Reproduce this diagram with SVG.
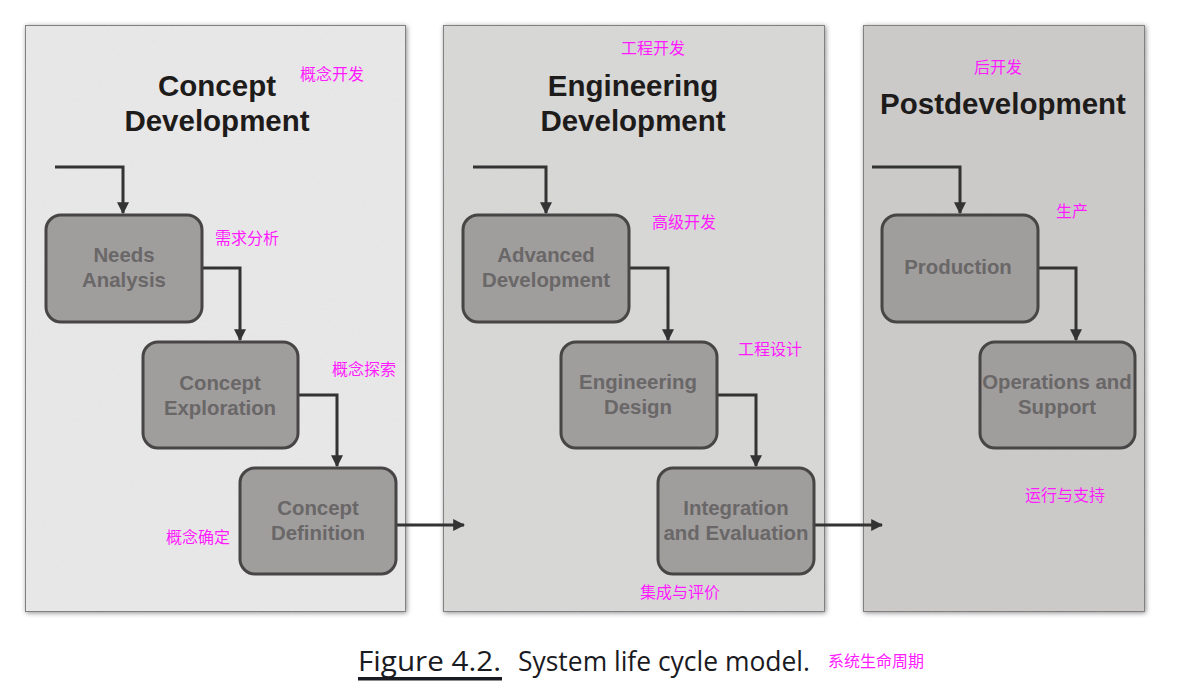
<svg xmlns="http://www.w3.org/2000/svg" width="1177" height="692" viewBox="0 0 1177 692">
<defs>
<marker id="ah" viewBox="0 0 10 10" refX="9" refY="5" markerWidth="4" markerHeight="4" orient="auto" markerUnits="strokeWidth">
<path d="M0,0 L10,5 L0,10 z" fill="#333"/>
</marker>
<filter id="sh" x="-5%" y="-5%" width="110%" height="110%">
<feGaussianBlur in="SourceAlpha" stdDeviation="2.5"/>
<feOffset dx="1" dy="1" result="b"/>
<feFlood flood-color="#000" flood-opacity="0.45"/>
<feComposite in2="b" operator="in"/>
<feMerge><feMergeNode/><feMergeNode in="SourceGraphic"/></feMerge>
</filter>
<filter id="tex" x="0" y="0" width="100%" height="100%">
<feTurbulence type="fractalNoise" baseFrequency="0.8" numOctaves="3" seed="3" result="n"/>
<feColorMatrix in="n" type="matrix" values="0 0 0 0 0.5  0 0 0 0 0.5  0 0 0 0 0.5  0 0 0 0.16 0" result="g"/>
<feComposite in="g" in2="SourceGraphic" operator="atop"/>
</filter>
</defs>
<style>
.panel{stroke:#7a7a7a;stroke-width:2}
.node rect{fill:#a09d9d;stroke:#474545;stroke-width:3}
.node text{font-family:"Liberation Sans",Arial,sans-serif;font-weight:bold;font-size:20.4px;fill:#696767;text-anchor:middle}
.title{font-family:"Liberation Sans",Arial,sans-serif;font-weight:bold;font-size:29.5px;fill:#1e1b1b;text-anchor:middle}
.cn{font-family:"Noto Sans CJK SC",sans-serif;font-size:16px;fill:#ff1aff}
.conn path{fill:none;stroke:#333;stroke-width:3;marker-end:url(#ah)}
.cap{font-family:"Open Sans","Noto Sans",sans-serif;font-size:27px;fill:#1a1a22}
</style>
<rect width="1177" height="692" fill="#fff"/>
<g id="panels">
<g filter="url(#sh)"><rect class="panel" x="25" y="25" width="381" height="587" fill="#ebeaea" filter="url(#tex)"/></g>
<g filter="url(#sh)"><rect class="panel" x="443" y="25" width="382" height="587" fill="#d9d9d8" filter="url(#tex)"/></g>
<g filter="url(#sh)"><rect class="panel" x="863" y="25" width="282" height="587" fill="#cdcbca" filter="url(#tex)"/></g>
</g>
<g id="titles">
<text class="title" x="217" y="96">Concept</text>
<text class="title" x="217" y="131">Development</text>
<text class="title" x="633" y="96">Engineering</text>
<text class="title" x="633" y="131">Development</text>
<text class="title" x="1003" y="114">Postdevelopment</text>
</g>
<g id="connectors" class="conn">
<path d="M55,167 H123 V213"/>
<path d="M202,268 H240 V340"/>
<path d="M298,395 H337 V466"/>
<path d="M396,525 H464"/>
<path d="M473,167 H546 V213"/>
<path d="M629,268 H668 V340"/>
<path d="M717,395 H756 V466"/>
<path d="M814,525 H882"/>
<path d="M872,167 H960 V213"/>
<path d="M1038,268 H1076 V340"/>
</g>
<g id="n1" class="node"><rect x="46" y="215" width="156" height="107" rx="15"/><text x="124" y="262">Needs</text><text x="124" y="287">Analysis</text></g>
<g id="n2" class="node"><rect x="143" y="342" width="155" height="106" rx="15"/><text x="220" y="390">Concept</text><text x="220" y="415">Exploration</text></g>
<g id="n3" class="node"><rect x="240" y="468" width="156" height="106" rx="15"/><text x="318" y="515">Concept</text><text x="318" y="540">Definition</text></g>
<g id="n4" class="node"><rect x="463" y="215" width="166" height="107" rx="15"/><text x="546" y="262">Advanced</text><text x="546" y="287">Development</text></g>
<g id="n5" class="node"><rect x="561" y="342" width="156" height="106" rx="15"/><text x="638" y="389">Engineering</text><text x="638" y="414">Design</text></g>
<g id="n6" class="node"><rect x="658" y="468" width="156" height="106" rx="15"/><text x="736" y="515">Integration</text><text x="736" y="540">and Evaluation</text></g>
<g id="n7" class="node"><rect x="882" y="215" width="156" height="107" rx="15"/><text x="958" y="274">Production</text></g>
<g id="n8" class="node"><rect x="980" y="342" width="155" height="106" rx="15"/><text x="1057" y="389">Operations and</text><text x="1057" y="414">Support</text></g>
<g id="annotations">
<text class="cn" x="300" y="80">概念开发</text>
<text class="cn" x="215" y="244">需求分析</text>
<text class="cn" x="332" y="375">概念探索</text>
<text class="cn" x="166" y="543">概念确定</text>
<text class="cn" x="621" y="54">工程开发</text>
<text class="cn" x="652" y="228">高级开发</text>
<text class="cn" x="738" y="355">工程设计</text>
<text class="cn" x="640" y="598">集成与评价</text>
<text class="cn" x="974" y="73">后开发</text>
<text class="cn" x="1056" y="217">生产</text>
<text class="cn" x="1025" y="501">运行与支持</text>
<text class="cn" x="828" y="667">系统生命周期</text>
</g>
<g id="caption">
<text class="cap" x="358" y="671" textLength="143" lengthAdjust="spacingAndGlyphs">Figure 4.2.</text>
<rect x="358" y="677" width="144" height="3.5" fill="#1a1a22"/>
<text class="cap" x="518" y="671" textLength="292" lengthAdjust="spacingAndGlyphs">System life cycle model.</text>
</g>
</svg>
